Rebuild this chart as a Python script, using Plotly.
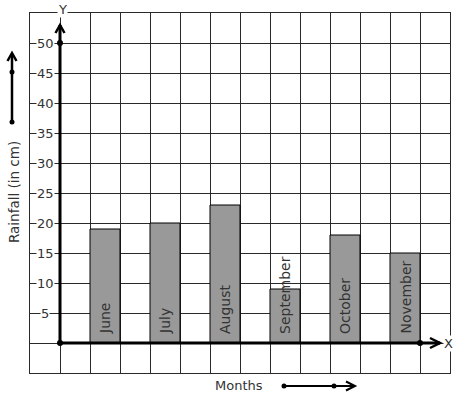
import plotly.graph_objects as go

months = ["June", "July", "August", "September", "October", "November"]
rainfall = [19, 20, 23, 9, 18, 15]
bar_pos = [1.5, 3.5, 5.5, 7.5, 9.5, 11.5]
y_ticks = [5, 10, 15, 20, 25, 30, 35, 40, 45, 50]

W, H = 457, 399
L, R, T, B = 30, 7, 13, 26
PW, PH = W - L - R, H - T - B
FONT = "DejaVu Sans"
TXT = "#333333"
GRID = "#2a2a2a"


def px(x):
    return (x - L) / PW


def py(y):
    return (H - B - y) / PH


fig = go.Figure()
fig.add_trace(go.Bar(
    x=bar_pos, y=rainfall, width=1,
    marker=dict(color="#999999", line=dict(color="#000000", width=1)),
    hoverinfo="skip",
))

ann = []
for m, xp in zip(months, bar_pos):
    ann.append(dict(x=xp, y=0, xref="x", yref="y", text=m, textangle=-90,
                    showarrow=False, xanchor="center", yanchor="bottom", yshift=7,
                    font=dict(family=FONT, size=14, color=TXT)))
for v in y_ticks:
    ann.append(dict(x=-0.5, y=v, xref="x", yref="y", text=str(v), showarrow=False,
                    xanchor="center", yanchor="middle", bgcolor="white", borderpad=0,
                    font=dict(family=FONT, size=13, color=TXT)))
ann.append(dict(x=px(62), y=py(9), xref="paper", yref="paper", text="Y", showarrow=False,
                xanchor="center", yanchor="middle", bgcolor="white", borderpad=0,
                font=dict(family=FONT, size=13, color=TXT)))
ann.append(dict(x=px(448), y=py(343), xref="paper", yref="paper", text="X", showarrow=False,
                xanchor="center", yanchor="middle", bgcolor="white", borderpad=0,
                font=dict(family=FONT, size=13, color=TXT)))
ann.append(dict(x=px(14), y=py(192), xref="paper", yref="paper", text="Rainfall (in cm)",
                textangle=-90, showarrow=False, xanchor="center", yanchor="middle",
                font=dict(family=FONT, size=13.5, color=TXT)))
ann.append(dict(x=px(239), y=py(385), xref="paper", yref="paper", text="Months",
                showarrow=False, xanchor="center", yanchor="middle",
                font=dict(family=FONT, size=13, color=TXT)))

shapes = []
# axes
shapes.append(dict(type="line", xref="x", yref="y", x0=0, y0=0, x1=0, y1=53,
                   line=dict(color="black", width=3)))
shapes.append(dict(type="line", xref="x", yref="y", x0=0, y0=0, x1=12.67, y1=0,
                   line=dict(color="black", width=3)))


def P(x, y):
    return f"{px(x):.5f},{py(y):.5f}"


def chev_up(x, ytip, w=4.5, d=8, lw=2.5):
    return dict(type="path", xref="paper", yref="paper",
                path=f"M{P(x - w, ytip + d)} L{P(x, ytip)} L{P(x + w, ytip + d)}",
                line=dict(color="black", width=lw))


def chev_right(xtip, y, w=5, d=10, lw=2.5):
    return dict(type="path", xref="paper", yref="paper",
                path=f"M{P(xtip - d, y - w)} L{P(xtip, y)} L{P(xtip - d, y + w)}",
                line=dict(color="black", width=lw))


def dot(x, y, r=2.5):
    return dict(type="circle", xref="paper", yref="paper", x0=px(x - r), x1=px(x + r),
                y0=py(y + r), y1=py(y - r), fillcolor="black", line=dict(width=0))


shapes.append(chev_up(60, 25))
shapes.append(chev_right(440, 343))
# left arrow
shapes.append(dict(type="line", xref="paper", yref="paper", x0=px(12), y0=py(122),
                   x1=px(12), y1=py(54), line=dict(color="black", width=2.5)))
shapes.append(chev_up(12, 53))
shapes.append(dot(12, 122))
shapes.append(dot(12, 72))
# bottom arrow
shapes.append(dict(type="line", xref="paper", yref="paper", x0=px(284), y0=py(386),
                   x1=px(354), y1=py(386), line=dict(color="black", width=2)))
shapes.append(chev_right(355, 386, w=4.5, d=9, lw=2))
shapes.append(dot(284, 386))
shapes.append(dot(334, 386))
# axis dots (data based)
for (dx, dy) in [(0, 0), (0, 50), (12, 0)]:
    shapes.append(dict(type="circle", xref="x", yref="y", xsizemode="pixel",
                       ysizemode="pixel", xanchor=dx, yanchor=dy, x0=-3, x1=3, y0=-3, y1=3,
                       fillcolor="black", line=dict(width=0)))

fig.update_layout(
    width=W, height=H, margin=dict(l=L, r=R, t=T, b=B),
    paper_bgcolor="white", plot_bgcolor="white", showlegend=False,
    xaxis=dict(range=[-1, 13], dtick=1, tick0=0, showgrid=True, gridcolor=GRID,
               gridwidth=1, zeroline=False, showticklabels=False, ticks="",
               showline=True, mirror=True, linecolor=GRID, linewidth=1, fixedrange=True),
    yaxis=dict(range=[-5, 55], dtick=5, tick0=0, showgrid=True, gridcolor=GRID,
               gridwidth=1, zeroline=False, showticklabels=False, ticks="",
               showline=True, mirror=True, linecolor=GRID, linewidth=1, fixedrange=True),
    annotations=ann, shapes=shapes,
)
fig.write_html("out.html", config=dict(displayModeBar=False),
               post_script="document.body.style.margin='0px';document.body.style.overflow='hidden';")
